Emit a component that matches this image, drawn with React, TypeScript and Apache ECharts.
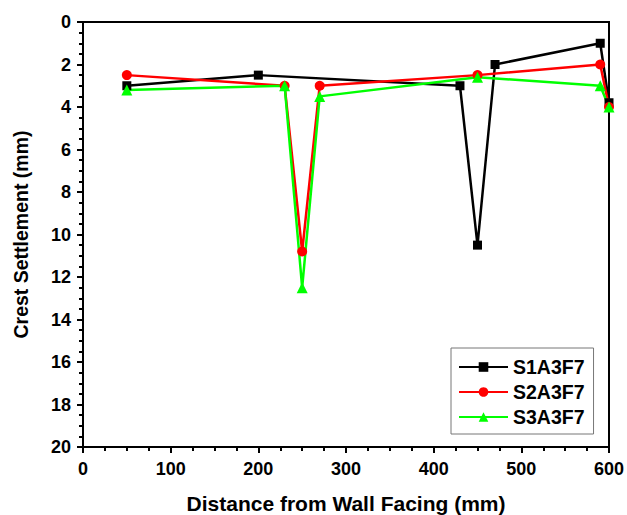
import React, { useEffect, useRef } from "react";
import * as echarts from "echarts";

const s1x = [50, 200, 430, 450, 470, 590, 600];
const s1y = [3, 2.5, 3, 10.5, 2, 1, 3.8];
const s2x = [50, 230, 250, 270, 450, 590, 600];
const s2y = [2.5, 3, 10.8, 3, 2.5, 2, 4];
const s3x = [50, 230, 250, 270, 450, 590, 600];
const s3y = [3.2, 3, 12.5, 3.5, 2.6, 3, 4];
const seriesNames = ["S1A3F7", "S2A3F7", "S3A3F7"];

const pair = (xs: number[], ys: number[]) => xs.map((x, i) => [x, ys[i]]);

export default function App() {
  const ref = useRef<HTMLDivElement>(null);
  useEffect(() => {
    if (!ref.current) return;
    const chart = echarts.init(ref.current, undefined, { renderer: "svg" });
    const font = "Liberation Sans, Arial, sans-serif";
    const mk = (name: string, data: number[][], color: string, symbol: string, size: number) => ({
      name,
      type: "line",
      data,
      symbol,
      symbolSize: size,
      showAllSymbol: true,
      lineStyle: { color, width: 2.5 },
      itemStyle: { color, borderWidth: 0 },
      emphasis: { disabled: true },
    });
    chart.setOption({
      animation: false,
      backgroundColor: "#fff",
      grid: {
        left: 83,
        top: 22,
        right: 18,
        bottom: 68,
        outerBoundsMode: "none",
        containLabel: false,
        show: true,
        borderColor: "#000",
        borderWidth: 2,
        backgroundColor: "transparent",
      },
      legend: {
        show: true,
        orient: "vertical",
        left: 451,
        top: 348,
        padding: [9, 9, 7, 7],
        itemGap: 5,
        itemWidth: 49,
        itemHeight: 12,
        borderColor: "#777",
        borderWidth: 1,
        borderRadius: 0,
        textStyle: { fontFamily: font, fontWeight: "bold", fontSize: 19.5, color: "#000" },
        data: seriesNames,
      },
      xAxis: {
        type: "value",
        min: 0,
        max: 600,
        interval: 100,
        name: "Distance from Wall Facing (mm)",
        nameLocation: "middle",
        nameGap: 46,
        nameTextStyle: { fontFamily: font, fontWeight: "bold", fontSize: 21, color: "#000" },
        axisLine: { show: true, onZero: false, lineStyle: { color: "#000", width: 2 } },
        axisTick: { show: true, inside: false, length: 6, lineStyle: { color: "#000", width: 2 } },
        minorTick: { show: true, splitNumber: 4, length: 4, lineStyle: { color: "#000", width: 2 } },
        splitLine: { show: false },
        axisLabel: { fontFamily: font, fontWeight: "bold", fontSize: 18, color: "#000", margin: 13 },
      },
      yAxis: {
        type: "value",
        inverse: true,
        min: 0,
        max: 20,
        interval: 2,
        name: "Crest Settlement (mm)",
        nameLocation: "middle",
        nameGap: 52,
        nameTextStyle: { fontFamily: font, fontWeight: "bold", fontSize: 19.5, color: "#000" },
        axisLine: { show: true, onZero: false, lineStyle: { color: "#000", width: 2 } },
        axisTick: { show: true, inside: false, length: 6, lineStyle: { color: "#000", width: 2 } },
        minorTick: { show: true, splitNumber: 4, length: 4, lineStyle: { color: "#000", width: 2 } },
        splitLine: { show: false },
        axisLabel: { fontFamily: font, fontWeight: "bold", fontSize: 18, color: "#000", margin: 12 },
      },
      series: [
        mk(seriesNames[0], pair(s1x, s1y), "#000000", "rect", 9),
        mk(seriesNames[1], pair(s2x, s2y), "#ff0000", "circle", 10),
        mk(seriesNames[2], pair(s3x, s3y), "#00ff00", "triangle", 11),
      ],
    });
    return () => chart.dispose();
  }, []);
  return <div ref={ref} style={{ width: 627, height: 515, position: "absolute", left: 0, top: 0 }} />;
}
